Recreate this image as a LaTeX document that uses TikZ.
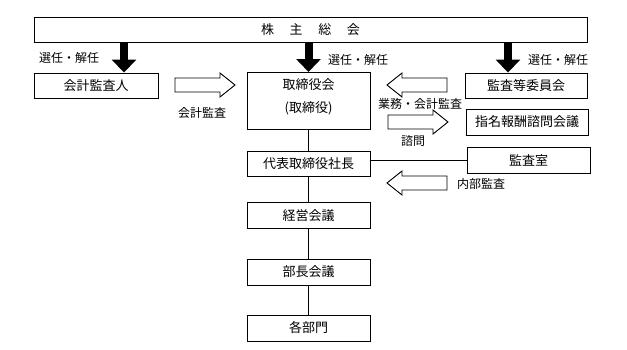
\documentclass[tikz,border=0pt]{standalone}
\usepackage{fontspec}
\newfontfamily\jpfont{Noto Sans CJK JP}
\usetikzlibrary{arrows.meta}
\tikzset{
  box/.style={draw, line width=0.9pt, inner sep=0pt, font=\jpfont\fontsize{13pt}{23pt}\selectfont},
  lbl/.style={inner sep=0pt, font=\jpfont\fontsize{12pt}{14pt}\selectfont},
  bigarrow/.style={line width=8pt, -{Triangle[width=24pt,length=13pt]}},
  link/.style={line width=0.9pt},
  openarrow/.pic={\draw[line width=0.9pt, fill=white]
    (0,-7) -- (45,-7) -- (45,-12) -- (60,0) -- (45,12) -- (45,7) -- (0,7) -- cycle;}
}

\begin{document}
\begin{tikzpicture}[x=1pt,y=-1pt]
  \useasboundingbox (0,0) rectangle (627,349);
  % boxes
  \node[box, minimum width=553pt, minimum height=25pt] (kabunushi) at (310.5,29.5)
    {株\hspace{1.2em}主\hspace{1.2em}総\hspace{1.2em}会};
  \node[box, minimum width=124pt, minimum height=25pt] (kaikei) at (96,85.5) {会計監査人};
  \node[box, minimum width=123pt, anchor=north, inner ysep=6.5pt, text depth=10.5pt, align=center]
    (torishimari) at (308.5,72) {取締役会\\(取締役)};
  \node[box, minimum width=122pt, minimum height=25pt] (iinkai) at (526,85.5) {監査等委員会};
  \node[box, minimum width=122pt, minimum height=26pt] (shimei) at (527,122) {指名報酬諮問会議};
  \node[box, minimum width=123pt, minimum height=25pt] (daihyo) at (308.5,163.5) {代表取締役社長};
  \node[box, minimum width=123pt, minimum height=26pt] (kansashitsu) at (528.5,160) {監査室};
  \node[box, minimum width=123pt, minimum height=26pt] (keiei) at (308.5,215.5) {経営会議};
  \node[box, minimum width=123pt, minimum height=26pt] (bucho) at (308.5,272) {部長会議};
  \node[box, minimum width=123pt, minimum height=26pt] (kakubu) at (308.5,328) {各部門};
  % labels
  \node[lbl] (sennin1) at (69,58) {選任・解任};
  \node[lbl] (sennin2) at (358,60) {選任・解任};
  \node[lbl] (sennin3) at (558,60) {選任・解任};
  \node[lbl] (kaikeilbl) at (202,113) {会計監査};
  \node[lbl] (gyomu) at (420,104) {業務・会計監査};
  \node[lbl] (shimon) at (413,141) {諮問};
  \node[lbl] (naibu) at (481,184) {内部監査};
  % election arrows
  \coordinate (e1) at (124,0);
  \coordinate (e3) at (508,0);
  \draw[bigarrow] (e1 |- kabunushi.south) -- (e1 |- kaikei.north);
  \draw[bigarrow] (torishimari.north |- kabunushi.south) -- (torishimari.north);
  \draw[bigarrow] (e3 |- kabunushi.south) -- (e3 |- iinkai.north);
  % audit arrows
  \pic at (175,85) {openarrow};
  \pic[xscale=-1] at (447,85) {openarrow};
  \pic at (388,122) {openarrow};
  \pic[xscale=-1] at (447,183) {openarrow};
  % lines
  \draw[link] (torishimari.south) -- (daihyo.north);
  \draw[link] (daihyo.south) -- (keiei.north);
  \draw[link] (keiei.south) -- (bucho.north);
  \draw[link] (bucho.south) -- (kakubu.north);
  \draw[link] (kansashitsu.west) -- (kansashitsu.west -| daihyo.east);
\end{tikzpicture}
\end{document}
